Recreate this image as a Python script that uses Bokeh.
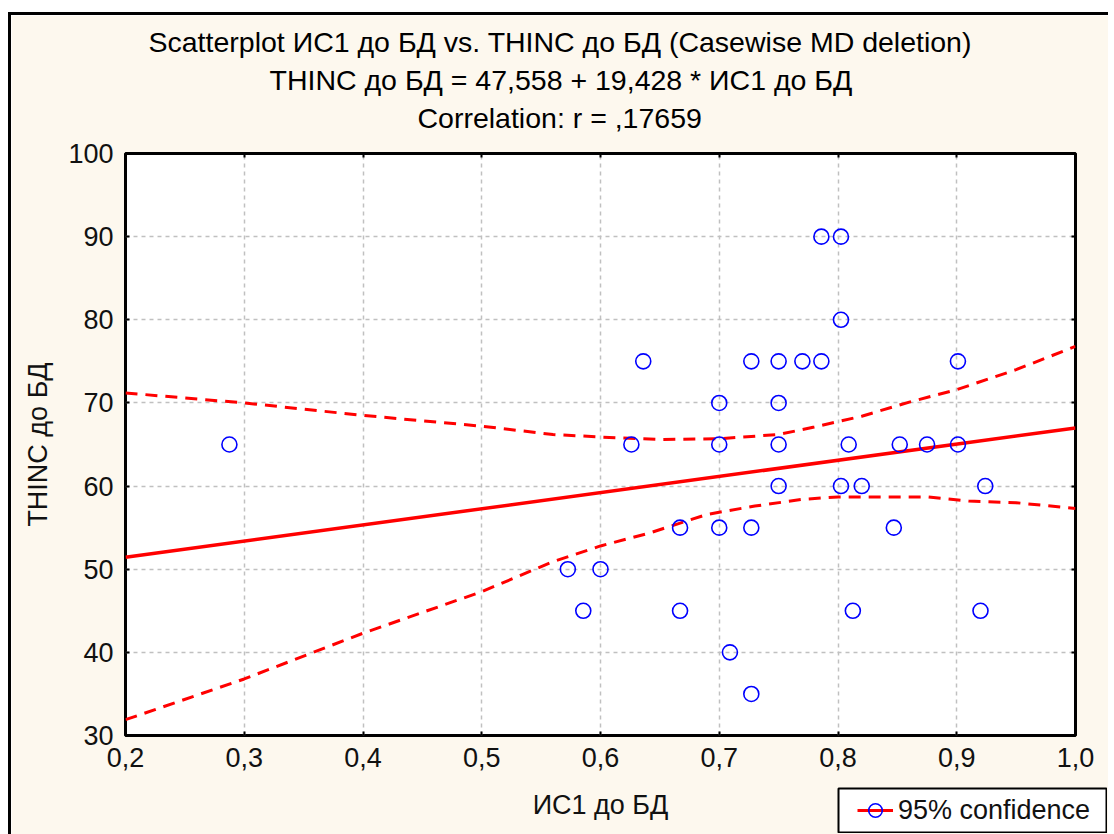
from bokeh.plotting import figure
from bokeh.models import (Range1d, Title, Legend, LegendItem, LinearAxis, FixedTicker,
                          CustomJSTickFormatter)
from bokeh.embed import file_html
from bokeh.resources import INLINE

# ---- data ----
ic1 = [0.2875, 0.5725, 0.5855, 0.600, 0.626, 0.636, 0.667, 0.667, 0.700, 0.700,
       0.700, 0.709, 0.727, 0.727, 0.727, 0.750, 0.750, 0.750, 0.750, 0.770,
       0.786, 0.786, 0.8025, 0.8025, 0.8025, 0.809, 0.8125, 0.820, 0.847, 0.852,
       0.875, 0.901, 0.901, 0.924, 0.920]
thinc = [65, 50, 45, 50, 65, 75, 55, 45, 70, 65,
         55, 40, 75, 55, 35, 75, 70, 65, 60, 75,
         75, 90, 90, 80, 60, 65, 45, 60, 55, 65,
         65, 75, 65, 60, 45]

reg_x = [0.2, 1.0]
reg_y = [51.44, 66.99]

upper_x = [0.2, 0.3, 0.4, 0.5, 0.56, 0.6, 0.65, 0.7, 0.75, 0.78, 0.82, 0.86, 0.9, 0.95, 1.0]
upper_y = [71.2, 70.0, 68.5, 67.2, 66.2, 65.9, 65.6, 65.7, 66.2, 67.1, 68.4, 70.1, 71.6, 74.0, 76.8]

lower_x = [0.2, 0.3, 0.4, 0.5, 0.56, 0.6, 0.64, 0.69, 0.73, 0.77, 0.8, 0.84, 0.875, 0.91, 0.95, 1.0]
lower_y = [31.9, 36.8, 42.3, 47.3, 50.9, 52.8, 54.3, 56.6, 57.6, 58.4, 58.7, 58.7, 58.7, 58.2, 58.0, 57.3]

x_ticks = [0.2, 0.3, 0.4, 0.5, 0.6, 0.7, 0.8, 0.9, 1.0]
y_ticks = [30, 40, 50, 60, 70, 80, 90, 100]

title_lines = ["Scatterplot ИС1 до БД vs. THINC до БД (Casewise MD deletion)",
               "THINC до БД = 47,558 + 19,428 * ИС1 до БД",
               "Correlation: r = ,17659"]
title_offsets = [23, 144, 292]   # left offsets so each line is centred on the page
legend_label = "95% confidence"

FONT = "Liberation Sans"
CREAM = "#fdf8ee"
RED = "#ff0000"
BLUE = "#0000ff"

p = figure(frame_width=950, frame_height=582, output_backend="svg", toolbar_location=None,
           x_range=Range1d(0.2, 1.0), y_range=Range1d(30, 100), title=None,
           min_border_left=114, min_border_right=33, min_border_top=138, min_border_bottom=99)
p.styles = {"margin-left": "8px", "margin-top": "12px",
            "border-left": "3px solid black", "border-top": "3px solid black"}
bx = p.below[0]
ly = p.left[0]

p.background_fill_color = "white"
p.border_fill_color = CREAM
p.outline_line_color = "black"
p.outline_line_width = 3

blank = CustomJSTickFormatter(code="return '';")

# top / right axes with inward ticks only (added first so they sit next to the frame)
top = LinearAxis(ticker=FixedTicker(ticks=x_ticks), formatter=blank, axis_line_color=None,
                 major_tick_in=4, major_tick_out=0, major_tick_line_width=2,
                 minor_tick_line_color=None, major_label_standoff=0)
right = LinearAxis(ticker=FixedTicker(ticks=y_ticks), formatter=blank, axis_line_color=None,
                   major_tick_in=4, major_tick_out=0, major_tick_line_width=2,
                   minor_tick_line_color=None, major_label_standoff=0)
p.add_layout(top, "above")
p.add_layout(right, "right")
# invisible spacer between the frame and the title block
spacer = LinearAxis(ticker=FixedTicker(ticks=x_ticks), formatter=blank, axis_line_color=None,
                    major_tick_in=0, major_tick_out=18, major_tick_line_color=None,
                    minor_tick_line_color=None, major_label_standoff=0)
p.add_layout(spacer, "above")

# titles (first added is innermost)
for line, off in reversed(list(zip(title_lines, title_offsets))):
    p.add_layout(Title(text=line, align="left", offset=off, text_font_size="28.5px",
                       text_font=FONT, text_font_style="normal", text_color="black",
                       standoff=4), "above")

bx.ticker = FixedTicker(ticks=x_ticks)
bx.formatter = CustomJSTickFormatter(code="return tick.toFixed(1).replace('.', ',');")
ly.ticker = FixedTicker(ticks=y_ticks)

for ax in (bx, ly):
    ax.axis_line_color = None
    ax.major_tick_in = 4
    ax.major_tick_out = 0
    ax.major_tick_line_color = "black"
    ax.major_tick_line_width = 2
    ax.minor_tick_line_color = None
    ax.major_label_text_font = FONT
    ax.major_label_text_font_size = "27px"
    ax.major_label_text_color = "#111111"
    ax.axis_label_text_font = FONT
    ax.axis_label_text_font_size = "27px"
    ax.axis_label_text_font_style = "normal"
    ax.axis_label_text_color = "#111111"

bx.axis_label = "ИС1 до БД"
ly.axis_label = "THINC до БД"
bx.major_label_standoff = 12
ly.major_label_standoff = 12
bx.axis_label_standoff = 20
ly.axis_label_standoff = 12

p.xgrid.ticker = FixedTicker(ticks=x_ticks)
p.ygrid.ticker = FixedTicker(ticks=y_ticks)
p.grid.grid_line_color = "#c0c0c0"
p.grid.grid_line_dash = "4 4"
p.grid.grid_line_width = 1.5

p.line(upper_x, upper_y, line_color=RED, line_width=3, line_dash="12 8")
p.line(lower_x, lower_y, line_color=RED, line_width=3, line_dash="12 8")
p.line(reg_x, reg_y, line_color=RED, line_width=3.5)
p.scatter(ic1, thinc, marker="circle", size=15, fill_color=None,
          line_color=BLUE, line_width=1.6)

# legend box: a small second root placed at the bottom right of the page
q = figure(frame_width=268, frame_height=44, output_backend="svg", toolbar_location=None,
           x_range=Range1d(0, 0.1), y_range=Range1d(0, 1), x_axis_location=None,
           y_axis_location=None, min_border=1, title=None)
q.grid.visible = False
q.background_fill_color = "white"
q.border_fill_color = CREAM
q.outline_line_color = "black"
q.outline_line_width = 2
q.styles = {"position": "absolute", "left": "837px", "top": "787px"}
# same series as the main plot; they fall outside this box's ranges, only the legend shows
lg_line = q.line(reg_x, reg_y, line_color=RED, line_width=3)
lg_pt = q.scatter(ic1, thinc, marker="circle", size=15, fill_color=None, line_color=BLUE,
                  line_width=1.6)
leg = Legend(items=[LegendItem(label=legend_label, renderers=[lg_line, lg_pt])],
             location="left", border_line_color=None, background_fill_alpha=0,
             label_text_font=FONT, label_text_font_size="27px", label_text_color="#111111",
             glyph_width=36, glyph_height=34, padding=0, margin=19, spacing=0,
             label_standoff=5)
q.add_layout(leg, "center")

open("out.html", "w").write(file_html([p, q], INLINE))
